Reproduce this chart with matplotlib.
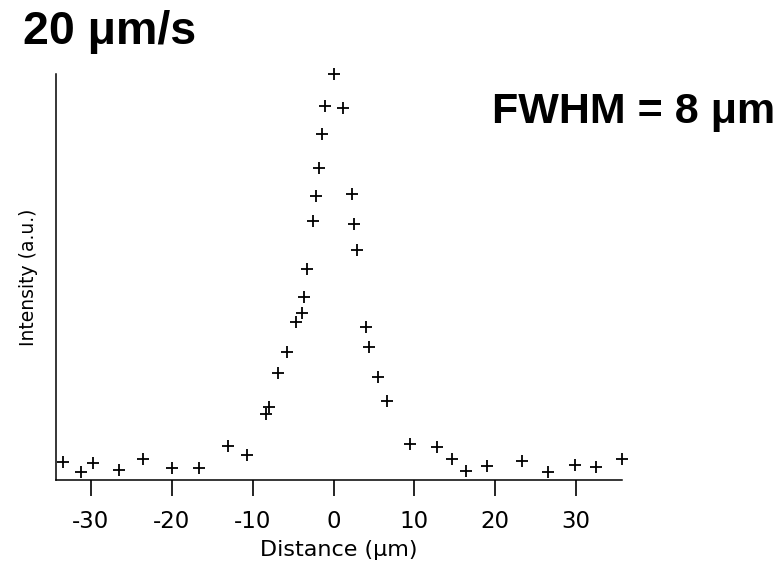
import matplotlib
matplotlib.use("Agg")
import matplotlib.pyplot as plt
import numpy as np

# line-scan profile at 20 um/s (intensity in arbitrary units)
distance = [
    -33.43, -31.28, -29.79, -26.50, -23.53, -19.94, -16.68, -13.02, -10.74,
    -8.35, -7.94, -6.83, -5.79, -4.68, -3.93, -3.61, -3.24, -2.50, -2.13,
    -1.79, -1.42, -1.05, 0.06, 1.14, 2.25, 2.54, 2.91, 3.98, 4.39, 5.51,
    6.58, 9.46, 12.77, 14.62, 16.39, 18.95, 23.32, 26.57, 29.91, 32.44, 35.69,
]
intensity = [
    0.045, 0.020, 0.041, 0.025, 0.051, 0.029, 0.029, 0.084, 0.062,
    0.162, 0.179, 0.263, 0.315, 0.388, 0.411, 0.451, 0.520, 0.639, 0.700,
    0.769, 0.851, 0.922, 1.000, 0.916, 0.704, 0.630, 0.567, 0.378, 0.328, 0.254,
    0.194, 0.088, 0.081, 0.051, 0.023, 0.034, 0.048, 0.019, 0.036, 0.033, 0.051,
]
xticks = [-30, -20, -10, 0, 10, 20, 30]

plt.rcParams["font.family"] = "DejaVu Sans"

fig = plt.figure(figsize=(7.83, 5.63), dpi=100)
ax = fig.add_axes([0.0711, 0.1474, 0.7229, 0.7212])

ax.plot(distance, intensity, linestyle="none", marker="+", markersize=9,
        markeredgewidth=1.3, color="black", clip_on=False)

ax.set_xlim(-34.37, 35.65)
ax.set_ylim(0, 1.0)
ax.set_xticks(xticks)
ax.set_xticklabels([str(t) for t in xticks])
ax.set_yticks([])
ax.tick_params(axis="x", direction="out", length=11.5, width=1.2,
               labelsize=16.5, pad=10, colors="black")
for s in ["top", "right"]:
    ax.spines[s].set_visible(False)
for s in ["left", "bottom"]:
    ax.spines[s].set_linewidth(1.1)

ax.set_xlabel("Distance (μm)", fontsize=16, labelpad=5)
ax.set_ylabel("Intensity (a.u.)", fontsize=13.5, labelpad=13)

fig.text(0.0294, 0.9218, "20 μm/s", fontsize=33.5, fontweight="bold",
         family="Liberation Sans", ha="left", va="baseline")
fig.text(0.628, 0.781, "FWHM = 8 μm", fontsize=31, fontweight="bold",
         family="Liberation Sans", ha="left", va="baseline")

fig.savefig("out.png", dpi=100)
